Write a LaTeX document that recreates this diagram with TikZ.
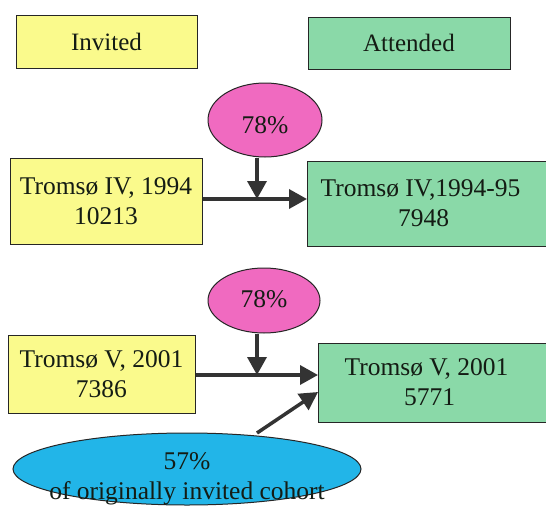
\documentclass[tikz,border=0pt]{standalone}
\usepackage{fontspec}
\setmainfont{Liberation Serif}
\usetikzlibrary{arrows.meta,shapes.geometric}
\definecolor{ylw}{HTML}{FAFA8C}
\definecolor{grn}{HTML}{8AD9A8}
\definecolor{pnk}{HTML}{F06AC0}
\definecolor{blu}{HTML}{22B5E8}
\definecolor{txt}{HTML}{141C14}
\tikzset{
  lbl/.style={text=txt, font=\fontsize{25.5}{30}\selectfont, align=center},
  box/.style={lbl, draw=black!85, line width=1pt, inner sep=0pt},
  ybox/.style={box, fill=ylw},
  gbox/.style={box, fill=grn},
  pct/.style={draw=black!85, line width=1pt, ellipse, inner sep=0pt, fill=pnk},
  arr/.style={draw=black!80, line width=3.5pt, -{Triangle[length=18pt,width=19pt]}},
}
\begin{document}
\begin{tikzpicture}[x=1pt,y=-1pt]
\useasboundingbox (0,0) rectangle (546,506);
\fill[white] (0,0) rectangle (546,506);
% headers
\node[ybox, minimum width=181pt, minimum height=53pt, font=\fontsize{25}{29}\selectfont] (inv) at (106.5,41.5) {Invited};
\node[gbox, minimum width=202pt, minimum height=52pt, font=\fontsize{25}{29}\selectfont] (att) at (409,43) {Attended};
% row 1
\node[ybox, minimum width=192pt, minimum height=86pt] (i4) at (106,201) {Tromsø IV, 1994\\10213};
\node[gbox, minimum width=240pt, minimum height=85pt, anchor=west] (a4) at (307,203.5) {\hspace*{-14pt}Tromsø IV,1994-95\\\hspace*{-8pt}7948};
\node[pct, minimum width=114pt, minimum height=74pt] (p4) at (265,120) {};
\node[lbl] (p4t) at (265,125) {78\%};
\coordinate (j4) at (257,199);
\draw[arr] (i4.east |- j4) -- (a4.west |- j4);
\draw[arr] (p4.south -| j4) -- (j4);
% row 2
\node[ybox, minimum width=187pt, minimum height=78pt] (i5) at (101.5,374) {Tromsø V, 2001\\7386};
\node[gbox, minimum width=230pt, minimum height=79pt, anchor=west] (a5) at (318,382.5) {\hspace*{-14pt}Tromsø V, 2001\\\hspace*{-8pt}5771};
\node[pct, minimum width=112pt, minimum height=65pt] (p5) at (264,300.5) {};
\node[lbl] (p5t) at (264,299) {78\%};
\coordinate (j5) at (257,375);
\draw[arr] (i5.east |- j5) -- (a5.west |- j5);
\draw[arr] (p5.south -| j5) -- (j5);
% blue ellipse
\node[draw=black!85, line width=1pt, ellipse, fill=blu, minimum width=348pt, minimum height=72pt, inner sep=0pt] (b5) at (187,469) {};
\node[lbl] (bt) at (187,479) {57\%\\of originally invited cohort};
\coordinate (b5top) at (257,433);
\draw[arr] (b5top) -- (a5.west |- 0,392);
\end{tikzpicture}
\end{document}
